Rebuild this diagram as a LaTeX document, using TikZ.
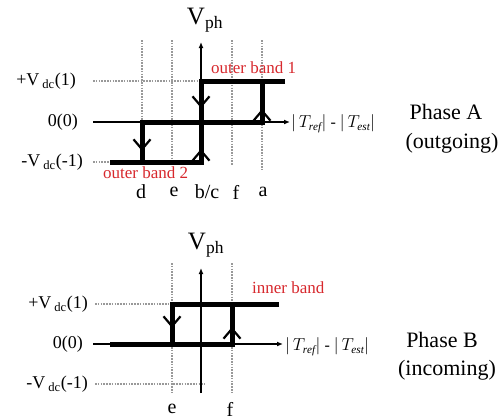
\documentclass[tikz,border=0pt]{standalone}
\usepackage{fontspec}
\setmainfont{Liberation Serif}
\usetikzlibrary{arrows.meta}
\definecolor{bandred}{RGB}{215,40,45}
\begin{document}
\begin{tikzpicture}[x=1pt,y=-1pt,
  gridline/.style={draw=gray!80, line width=1.3pt, dash pattern=on 1.6pt off 1.2pt},
  axisline/.style={draw=black, line width=1.4pt},
  axisarrow/.style={axisline, -{Latex[length=6pt,width=5pt]}},
  hyst/.style={draw=black, line width=5pt},
  barb/.style={draw=black, line width=2.2pt, -{Straight Barb[length=10pt,width=17pt]}},
  lvl/.style={font=\fontsize{18}{20}\selectfont, anchor=east, inner sep=0pt},
  tick/.style={font=\fontsize{20}{22}\selectfont, inner sep=0pt},
  band/.style={font=\fontsize{17}{19}\selectfont, text=bandred, inner sep=0pt},
  phase/.style={font=\fontsize{22}{24}\selectfont, inner sep=0pt},
  vph/.style={font=\fontsize{25}{27}\selectfont, inner sep=0pt},
  tlab/.style={font=\fontsize{16}{18}\selectfont, anchor=west, inner sep=0pt}]
\useasboundingbox (0,0) rectangle (499,416);
\clip (0,0) rectangle (499,416);

% ================= Phase A =================
% grid
\foreach \gx/\gy in {142/165,172/165,232/165,262/170}
  \draw[gridline] (\gx,40) -- (\gx,\gy);
\draw[gridline] (93,81) -- (201,81);
\draw[gridline] (93,162) -- (110,162);
% axes
\coordinate (A0) at (93,122);
\coordinate (AX) at (290,122);
\coordinate (AB) at (201,165);
\coordinate (AT) at (201,42);
\draw[axisarrow] (A0) -- (AX);
\draw[axisarrow] (AB) -- (AT);
% hysteresis
\draw[hyst] (285,81) -- (201,81) -- (201,162) -- (110,162);
\draw[hyst] (142,162) -- (142,122) -- (262,122) -- (262,81);
% direction marks
\draw[barb] (201,90) -- (201,108);
\draw[barb] (201,162) -- (201,149);
\draw[barb] (142,132) -- (142,151);
\draw[barb] (262,122) -- (262,109);
% labels
\node[vph] (vphA) at (205,20) {V\textsubscript{ph}};
\node[lvl] (pA) at (76,81) {+V\,\textsubscript{dc}(1)};
\node[lvl] (zA) at (78,122) {0(0)};
\node[lvl] (mA) at (83,162) {-V\,\textsubscript{dc}(-1)};
\node[band, anchor=west] (ob1) at (211,68) {outer band 1};
\node[band, anchor=west] (ob2) at (103,173) {outer band 2};
\node[tick] (ld) at (141,192) {d};
\node[tick] (le) at (174,192) {e};
\node[tick] (lbc) at (207,192) {b/c};
\node[tick] (lf) at (236,192) {f};
\node[tick] (la) at (263,192) {a};
\node[tlab] (tA) at (291,124) {$|\,T_{\mathit{ref}}|$ - $|\,T_{\mathit{est}}|$};
\node[phase] (phA) at (446,112) {Phase A};
\node[phase] (ogA) at (452,143) {(outgoing)};

% ================= Phase B =================
\foreach \gx in {172,232}
  \draw[gridline] (\gx,263) -- (\gx,393);
\draw[gridline] (95,304) -- (172,304);
\draw[gridline] (95,384) -- (205,384);
\coordinate (B0) at (93,344);
\coordinate (BX) at (283,344);
\coordinate (BB) at (201,393);
\coordinate (BT) at (201,268);
\draw[axisarrow] (B0) -- (BX);
\draw[axisarrow] (BB) -- (BT);
\draw[hyst] (110,344) -- (232,344) -- (232,304);
\draw[hyst] (279,304) -- (172,304) -- (172,344);
\draw[barb] (172,310) -- (172,328);
\draw[barb] (232,344) -- (232,327);
\node[vph] (vphB) at (206,245) {V\textsubscript{ph}};
\node[lvl] (pB) at (88,304) {+V\,\textsubscript{dc}(1)};
\node[lvl] (zB) at (83,344) {0(0)};
\node[lvl] (mB) at (88,384) {-V\,\textsubscript{dc}(-1)};
\node[band, anchor=west] (ib) at (252,288) {inner band};
\node[tick] (le2) at (172,409) {e};
\node[tick] (lf2) at (230,409) {f};
\node[tlab] (tB) at (285,347) {$|\,T_{\mathit{ref}}|$ - $|\,T_{\mathit{est}}|$};
\node[phase] (phB) at (442,340) {Phase B};
\node[phase] (icB) at (447,370) {(incoming)};
\end{tikzpicture}
\end{document}
